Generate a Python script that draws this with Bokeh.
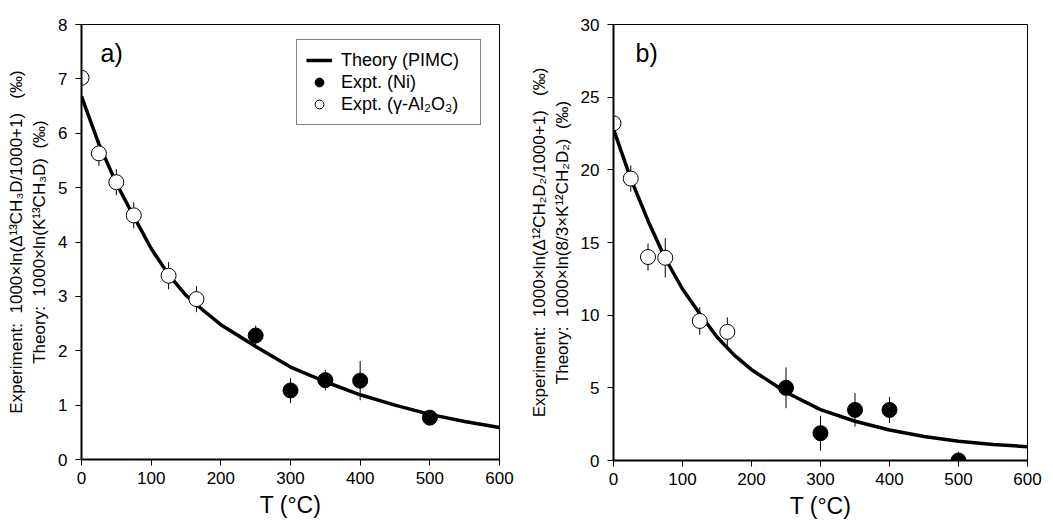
from bokeh.plotting import figure
from bokeh.layouts import row
from bokeh.models import Range1d, Legend, LegendItem, Label, FixedTicker, ColumnDataSource
from bokeh.embed import file_html
from bokeh.resources import INLINE

FONT = "Liberation Sans"

# ---------------- data: panel a) ----------------
theory_a_T = [0, 25, 50, 75, 100, 125, 150, 175, 200, 250, 300, 350, 400, 450, 500, 550, 600]
theory_a_v = [6.68, 5.80, 5.08, 4.47, 3.88, 3.40, 3.02, 2.74, 2.48, 2.08, 1.70, 1.43, 1.19, 1.00, 0.83, 0.70, 0.59]
al2o3_a_T = [0, 25, 50, 75, 125, 165]
al2o3_a_v = [7.02, 5.63, 5.10, 4.49, 3.38, 2.95]
al2o3_a_err = [0.10, 0.23, 0.24, 0.24, 0.25, 0.24]
ni_a_T = [250, 300, 350, 400, 500]
ni_a_v = [2.28, 1.27, 1.46, 1.45, 0.77]
ni_a_err = [0.18, 0.23, 0.19, 0.36, 0.08]

# ---------------- data: panel b) ----------------
theory_b_T = [0, 25, 50, 75, 100, 125, 150, 175, 200, 250, 300, 350, 400, 450, 500, 550, 600]
theory_b_v = [22.8, 19.4, 16.5, 13.9, 11.8, 10.1, 8.5, 7.25, 6.25, 4.7, 3.5, 2.7, 2.1, 1.65, 1.32, 1.1, 0.95]
al2o3_b_T = [0, 25, 50, 75, 125, 165]
al2o3_b_v = [23.2, 19.4, 14.0, 13.95, 9.6, 8.85]
al2o3_b_err = [1.0, 0.9, 0.93, 1.35, 0.95, 1.0]
ni_b_T = [250, 300, 350, 400, 500]
ni_b_v = [5.0, 1.88, 3.48, 3.48, 0.0]
ni_b_err = [1.4, 1.2, 1.15, 0.9, 0.6]

x_ticks = [0, 100, 200, 300, 400, 500, 600]
y_ticks_a = [0, 1, 2, 3, 4, 5, 6, 7, 8]
y_ticks_b = [0, 5, 10, 15, 20, 25, 30]

NB = "\u00a0"
xlabel = "T (°C)"
ylabel_a = ("Experiment:" + NB + " 1000×ln(Δ¹³CH₃D/1000+1)" + NB + NB + " (‰)\n"
            "Theory:" + NB + " 1000×ln(K¹³CH₃D)" + NB + " (‰)")
ylabel_b = ("Experiment:" + NB + " 1000×ln(Δ¹²CH₂D₂/1000+1)" + NB + NB + " (‰)\n"
            "Theory:" + NB + " 1000×ln(8/3×K¹²CH₂D₂)" + NB + " (‰)")
legend_labels = ["Theory (PIMC)", "Expt. (Ni)", "Expt. (γ-Al₂O₃)"]


def make_panel(tT, tv, oT, ov, oe, fT, fv, fe, ymax, yticks, ylabel, tag,
               fw, fh, bl, br, bt, bb, tx, legend=False):
    p = figure(frame_width=fw, frame_height=fh,
               min_border_left=bl, min_border_right=br, min_border_top=bt, min_border_bottom=bb,
               x_range=Range1d(0, 600), y_range=Range1d(0, ymax),
               output_backend="svg", toolbar_location=None)
    p.xgrid.visible = False
    p.ygrid.visible = False
    p.outline_line_color = "black"
    p.outline_line_width = 1
    p.background_fill_color = "white"
    p.border_fill_color = "white"

    for ax in (p.xaxis[0], p.yaxis[0]):
        ax.axis_line_width = 2
        ax.axis_line_color = "black"
        ax.major_tick_line_color = "black"
        ax.major_tick_line_width = 1
        ax.major_tick_out = 6
        ax.major_tick_in = 0
        ax.minor_tick_line_color = None
        ax.major_label_text_font = FONT
        ax.major_label_text_font_size = "17px"
        ax.major_label_text_color = "black"
        ax.axis_label_text_font = FONT
        ax.axis_label_text_font_style = "normal"
        ax.axis_label_text_color = "black"
    p.xaxis.ticker = FixedTicker(ticks=x_ticks)
    p.yaxis.ticker = FixedTicker(ticks=yticks)
    p.xaxis.major_label_standoff = 6
    p.yaxis.major_label_standoff = 8
    p.yaxis.axis_label = ylabel
    p.yaxis.axis_label_text_font_size = "17px"
    p.yaxis.axis_label_standoff = 6
    p.xaxis.axis_label = xlabel
    p.xaxis.axis_label_text_font_size = "23px"
    p.xaxis.axis_label_standoff = 5

    src_o = ColumnDataSource(dict(x=oT, y=ov, lo=[a - b for a, b in zip(ov, oe)],
                                  hi=[a + b for a, b in zip(ov, oe)]))
    src_f = ColumnDataSource(dict(x=fT, y=fv, lo=[a - b for a, b in zip(fv, fe)],
                                  hi=[a + b for a, b in zip(fv, fe)]))
    p.segment(x0="x", y0="lo", x1="x", y1="hi", source=src_o, line_color="black", line_width=1)
    p.segment(x0="x", y0="lo", x1="x", y1="hi", source=src_f, line_color="black", line_width=1)
    r_line = p.line(tT, tv, line_color="black", line_width=3.5)
    r_f = p.scatter(x="x", y="y", source=src_f, size=15, marker="circle",
                    fill_color="black", line_color="black", line_width=1)
    r_o = p.scatter(x="x", y="y", source=src_o, size=15, marker="circle",
                    fill_color="white", line_color="black", line_width=1)

    p.add_layout(Label(x=tx, y=fh - 14, x_units="screen", y_units="screen", text=tag,
                       text_font=FONT, text_font_size="25px", text_baseline="top",
                       text_color="black"))

    if legend:
        lg = Legend(items=[LegendItem(label=legend_labels[0], renderers=[r_line]),
                           LegendItem(label=legend_labels[1], renderers=[r_f]),
                           LegendItem(label=legend_labels[2], renderers=[r_o])],
                    location=(215, 334), orientation="vertical")
        lg.border_line_color = "black"
        lg.border_line_width = 1
        lg.background_fill_color = "white"
        lg.background_fill_alpha = 1
        lg.padding = 9
        lg.spacing = 0
        lg.margin = 0
        lg.glyph_width = 26
        lg.glyph_height = 22
        lg.label_height = 22
        lg.label_width = 130
        lg.label_standoff = 9
        lg.label_text_font = FONT
        lg.label_text_font_size = "18px"
        lg.label_text_color = "black"
        p.add_layout(lg)
    return p


pa = make_panel(theory_a_T, theory_a_v, al2o3_a_T, al2o3_a_v, al2o3_a_err,
                ni_a_T, ni_a_v, ni_a_err, 8, y_ticks_a, ylabel_a, "a)",
                418, 435, 81, 21, 24, 66, 19, legend=True)
pb = make_panel(theory_b_T, theory_b_v, al2o3_b_T, al2o3_b_v, al2o3_b_err,
                ni_b_T, ni_b_v, ni_b_err, 30, y_ticks_b, ylabel_b, "b)",
                414, 436, 93, 18, 24, 65, 22)

layout = row(pa, pb, spacing=0)
open("out.html", "w").write(file_html(layout, INLINE))
